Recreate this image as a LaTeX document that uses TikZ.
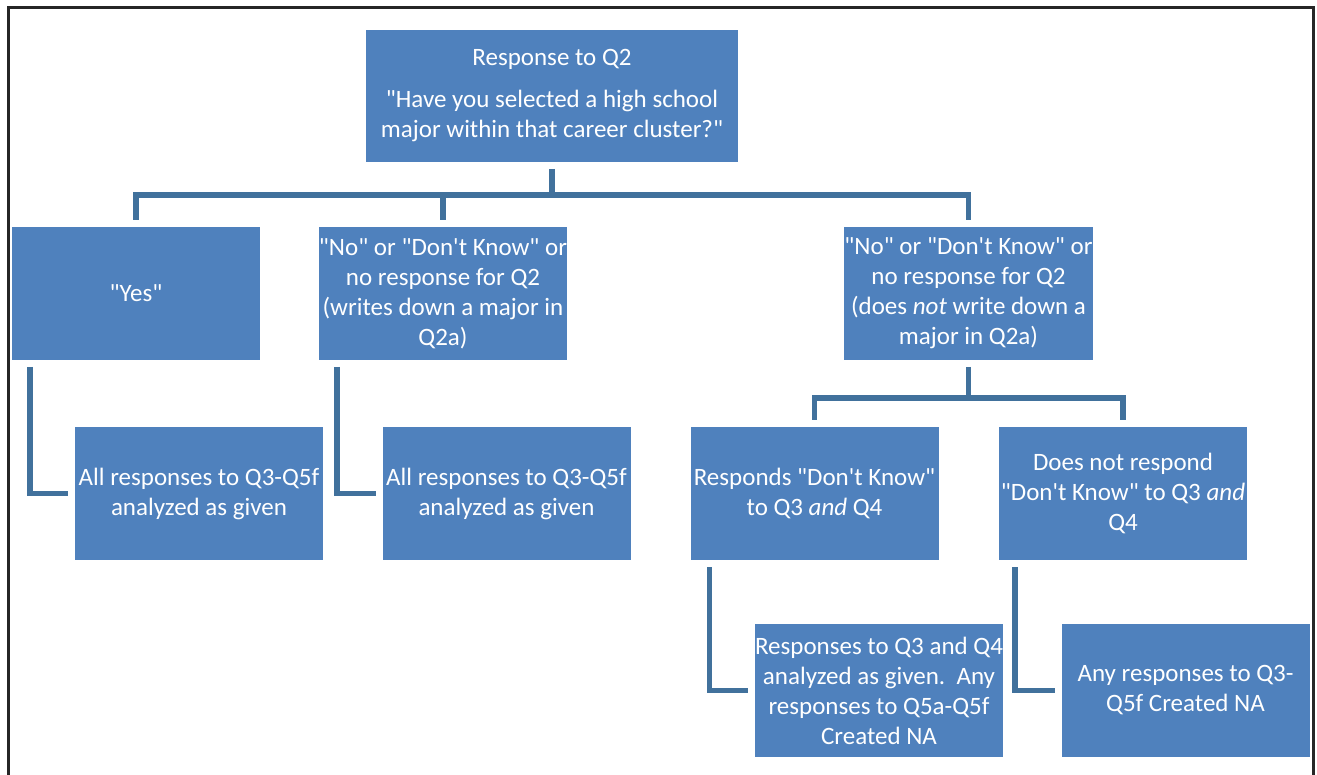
\documentclass[tikz,border=0pt]{standalone}
\usepackage{fontspec}
\setmainfont{Carlito}[Ligatures=TeXOff]
\usepackage{xcolor}
\usetikzlibrary{positioning,calc}
\definecolor{boxblue}{HTML}{4F81BD}
\definecolor{linkblue}{HTML}{41719C}

\begin{document}
\begin{tikzpicture}[x=1pt, y=-1pt,
  box/.style={fill=boxblue, text=white, minimum width=248pt, minimum height=133pt,
    inner sep=0pt, outer sep=7pt, align=center, font=\fontsize{25}{30}\selectfont},
  link/.style={draw=linkblue, line width=5.5pt}]
\useasboundingbox (0,0) rectangle (1317,775);
\draw[line width=3pt, black!85] (8,775) |- (1313,8) -- (1313,775);
\node[box, minimum width=372pt, minimum height=132pt] (q2) at (552,96)
  {Response to Q2\\[12pt] "Have you selected a high school\\ major within that career cluster?"};
\node[box] (yes) at (136,293.5) {"Yes"};
\node[box] (major) at (443,293.5)
  {"No" or "Don't Know" or\\ no response for Q2\\ (writes down a major in\\ Q2a)};
\node[box] (nomajor) at (968.5,293.5)
  {"No" or "Don't Know" or\\ no response for Q2\\ (does \textit{not} write down a\\ major in Q2a)};
\node[box] (allyes) at (199,493.5) {All responses to Q3-Q5f\\ analyzed as given};
\node[box] (allmajor) at (506.5,493.5) {All responses to Q3-Q5f\\ analyzed as given};
\node[box] (dk) at (814.5,493.5) {Responds "Don't Know"\\ to Q3 \textit{and} Q4};
\node[box] (notdk) at (1123,493.5) {Does not respond\\ "Don't Know" to Q3 \textit{and}\\ Q4};
\node[box] (resdk) at (879,690.5)
  {Responses to Q3 and Q4\\ analyzed as given.\ \ Any\\ responses to Q5a-Q5f\\ Created NA};
\node[box] (resnotdk) at (1185.5,690.5) {Any responses to Q3-\\ Q5f Created NA};

\draw[link] (q2.south) -- ++(0,26) coordinate (bus1);
\draw[link] (bus1) -| (yes.north);
\draw[link] (bus1) -| (major.north);
\draw[link] (bus1) -| (nomajor.north);
\draw[link] (nomajor.south) -- ++(0,31) coordinate (bus2);
\draw[link] (bus2) -| (dk.north);
\draw[link] (bus2) -| (notdk.north);

\draw[link] ($(yes.south west)+(25,0)$) |- (allyes.west);
\draw[link] ($(major.south west)+(25,0)$) |- (allmajor.west);
\draw[link] ($(dk.south west)+(26,0)$) |- (resdk.west);
\draw[link] ($(notdk.south west)+(23,0)$) |- (resnotdk.west);
\end{tikzpicture}
\end{document}
